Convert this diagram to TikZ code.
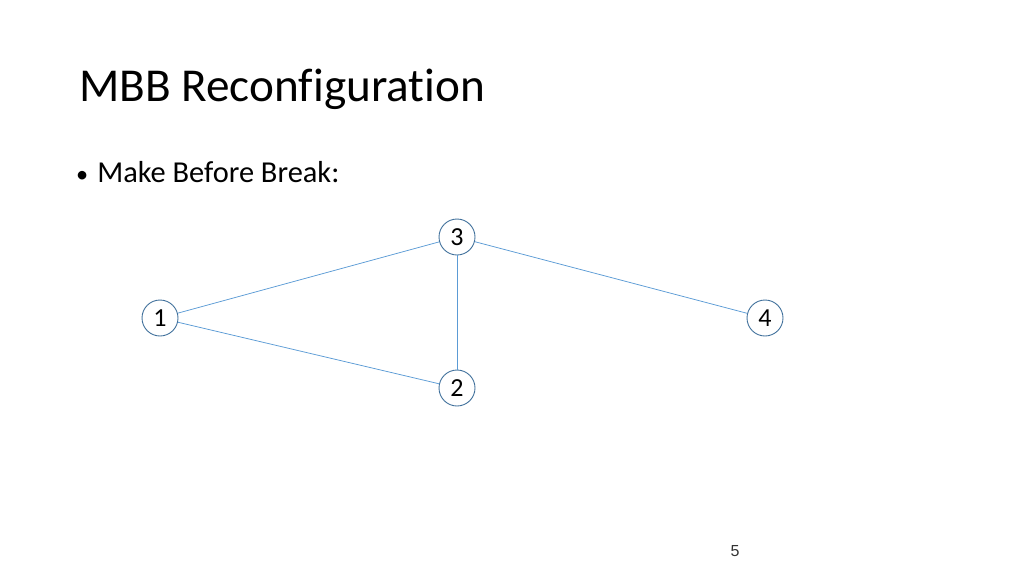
\documentclass[tikz,border=0pt]{standalone}
\usepackage{fontspec}
\setmainfont{Carlito}[Ligatures={NoCommon}]
\newfontfamily\numfont{Liberation Sans}
\usepackage{tikz}
\definecolor{edgeblue}{HTML}{5B9BD5}
\definecolor{ringblue}{HTML}{41719C}
\tikzset{
	vertex/.style={circle,draw=ringblue,line width=0.9pt,fill=white,minimum size=36pt,inner sep=0pt,font=\fontsize{26}{26}\selectfont},
	link/.style={draw=edgeblue,line width=0.75pt}
}

\begin{document}
\begin{tikzpicture}[x=1pt,y=-1pt]
	\useasboundingbox (0,0) rectangle (1024,576);
	\node[anchor=base west,font=\fontsize{47.2}{47.2}\selectfont,inner sep=0pt] at (79,101) (title) {MBB Reconfiguration};
	\node[anchor=base west,font=\fontsize{30.4}{30.4}\selectfont,inner sep=0pt] at (76,182) (bullet) {\scalebox{0.8}{\textbullet}\hspace{9pt}Make Before Break:};
	\node[vertex] at (457,237) (A3) {3};
	\node[vertex] at (160,318) (A1) {1};
	\node[vertex] at (765,318) (A4) {4};
	\node[vertex] at (457,388) (A2) {2};
	\draw[link] (A1) -- (A3);
	\draw[link] (A1) -- (A2);
	\draw[link] (A3) -- (A2);
	\draw[link] (A3) -- (A4);
	\node[anchor=base,font=\numfont\fontsize{16}{16}\selectfont,text=black!80] at (735,556) (page) {5};
\end{tikzpicture}
\end{document}
